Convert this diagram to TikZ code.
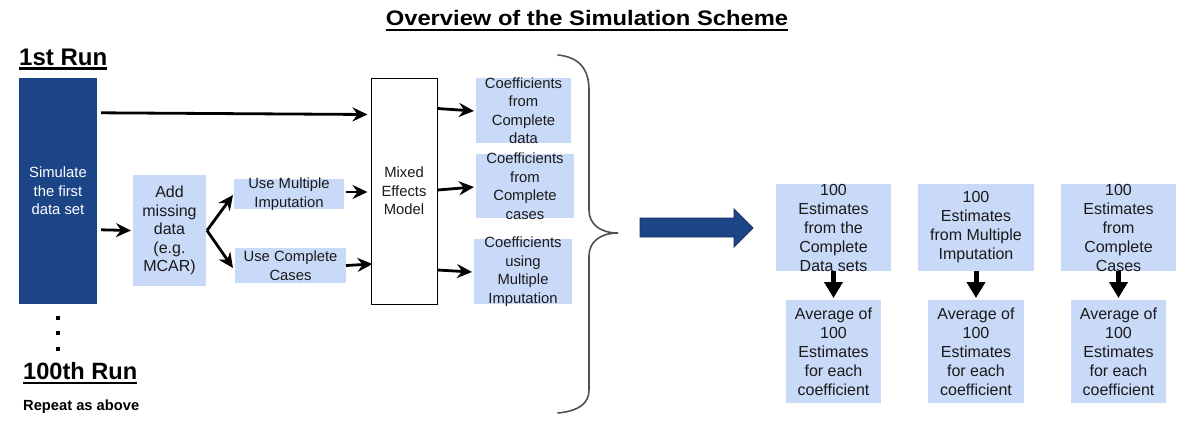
\documentclass[tikz,border=0pt]{standalone}
\usepackage{fontspec}
\usepackage{graphicx}
\setmainfont{Liberation Sans}
\usetikzlibrary{arrows.meta,calc}
\definecolor{dkblue}{HTML}{1C4587}
\definecolor{ltblue}{HTML}{C9DAF8}
\definecolor{txtc}{HTML}{1A1A1A}
\definecolor{bracec}{HTML}{505050}
\begin{document}
\begin{tikzpicture}[x=1pt,y=-1pt,
  box/.style={fill=ltblue, draw=none, inner sep=0, outer sep=0},
  txt/.style={align=center, text=txtc, font=\fontsize{14.8}{18.5}\selectfont, inner sep=0},
  txtb/.style={align=center, text=txtc, font=\fontsize{16}{19}\selectfont, inner sep=0},
  heading/.style={inner sep=0, text=black, font=\bfseries\fontsize{24}{28}\selectfont},
  uline/.style={line width=2.2pt},
  arr/.style={line width=2.8pt, -{Stealth[length=15pt,width=14pt,inset=5pt]}},
  darr/.style={line width=5pt, -{Triangle[length=16pt,width=18pt]}}]
\fill[white] (0,0) rectangle (1203,424);
\useasboundingbox (0,0) rectangle (1203,424);

% headings
\node[heading, anchor=base, font=\bfseries\fontsize{21}{24}\selectfont] (title) at (587,25) {\scalebox{1.13}[1]{Overview of the Simulation Scheme}};
\draw[uline] ([shift={(0,5)}]title.base west) -- ([shift={(0,5)}]title.base east);
\node[heading, anchor=base west] (run1) at (19,65) {1st Run};
\draw[uline] ([shift={(0,3.5)}]run1.base west) -- ([shift={(0,3.5)}]run1.base east);
\node[heading, anchor=base west, font=\bfseries\fontsize{23.6}{28}\selectfont] (run100) at (23,379) {100th Run};
\draw[uline] ([shift={(0,4)}]run100.base west) -- ([shift={(0,4)}]run100.base east);
\node[inner sep=0, anchor=base west, text=black, font=\bfseries\fontsize{14.7}{17}\selectfont] (rep) at (23,410.5) {Repeat as above};

% dots
\fill (56,316) rectangle (60,320);
\fill (56,331) rectangle (60,335);
\fill (56,347) rectangle (60,351);

% left boxes
\node[fill=dkblue, inner sep=0, minimum width=78pt, minimum height=226pt,
  label={[txt, text=white]center:{Simulate\\the first\\data set}}] (sim) at (58,191) {};
\node[box, minimum width=73pt, minimum height=111pt,
  label={[txtb, font=\fontsize{16}{18.5}\selectfont]center:{Add\\missing\\data\\(e.g.\\MCAR)}}] (add) at (169.5,230.5) {};
\node[box, minimum width=110pt, minimum height=30pt,
  label={[txt]center:{Use Multiple\\Imputation}}] (mi) at (289,194) {};
\node[box, minimum width=111pt, minimum height=35pt,
  label={[txt]center:{Use Complete\\Cases}}] (cc) at (290.5,265.5) {};
\node[draw=black, line width=1pt, fill=white, inner sep=0, minimum width=66pt, minimum height=226pt,
  label={[txt]center:{Mixed\\Effects\\Model}}] (mem) at (404,191) {};

% coefficient boxes
\node[box, minimum width=95pt, minimum height=65pt,
  label={[txt]center:{Coefficients\\from\\Complete\\data}}] (c1) at (523.5,110.5) {};
\node[box, minimum width=98pt, minimum height=64pt,
  label={[txt]center:{Coefficients\\from\\Complete\\cases}}] (c2) at (525,186) {};
\node[box, minimum width=98pt, minimum height=65pt,
  label={[txt]center:{Coefficients\\using\\Multiple\\Imputation}}] (c3) at (523,271.5) {};

% estimate boxes
\node[box, minimum width=115pt, minimum height=87pt,
  label={[txtb]center:{100\\Estimates\\from the\\Complete\\Data sets}}] (ea) at (833.5,227.5) {};
\node[box, minimum width=116pt, minimum height=87pt,
  label={[txtb]center:{100\\Estimates\\from Multiple\\Imputation}}] (eb) at (976,227.5) {};
\node[box, minimum width=115pt, minimum height=87pt,
  label={[txtb]center:{100\\Estimates\\from\\Complete\\Cases}}] (ec) at (1118.5,227.5) {};
\node[box, minimum width=95pt, minimum height=103pt,
  label={[txtb]center:{Average of\\100\\Estimates\\for each\\coefficient}}] (aa) at (833.5,351.5) {};
\node[box, minimum width=96pt, minimum height=103pt,
  label={[txtb]center:{Average of\\100\\Estimates\\for each\\coefficient}}] (ab) at (976,351.5) {};
\node[box, minimum width=95pt, minimum height=103pt,
  label={[txtb]center:{Average of\\100\\Estimates\\for each\\coefficient}}] (ac) at (1118.5,351.5) {};

% connectors
\draw[arr] ([shift={(4,35)}]sim.north east) -- ([shift={(-3,37)}]mem.north west);
\draw[arr] ([shift={(4,152)}]sim.north east) -- ([shift={(-2,0)}]add.east -| add.west);
\draw[arr] ([shift={(1,0)}]add.east) -- ([shift={(-1,1)}]mi.west);
\draw[arr] ([shift={(1,0)}]add.east) -- ([shift={(-2,2.5)}]cc.west);
\draw[arr] ([shift={(2,-2)}]mi.east) -- ([shift={(-3,1)}]mem.west);
\draw[arr] (cc.east) -- ([shift={(2,73)}]mem.west);
\draw[arr] ([shift={(0,31)}]mem.north east) -- ([shift={(-2,0.5)}]c1.west);
\draw[arr] ([shift={(0,-1)}]mem.east) -- ([shift={(-2,1)}]c2.west);
\draw[arr] ([shift={(0,79)}]mem.east) -- ([shift={(-2,0.5)}]c3.west);
\draw[darr] (ea.south) -- ([shift={(0,-2)}]aa.north);
\draw[darr] (eb.south) -- ([shift={(0,-2)}]ab.north);
\draw[darr] (ec.south) -- ([shift={(0,-2)}]ac.north);

% brace
\draw[bracec, line width=1.6pt, line cap=round]
  (558,55) .. controls (578,57) and (589,68) .. (589,90) -- (589,210)
  .. controls (589,224) and (600,233) .. (618,233)
  .. controls (600,233) and (589,242) .. (589,256) -- (589,390)
  .. controls (589,404) and (578,411) .. (558,413);

% big arrow
\draw[fill=dkblue, draw=dkblue!70!black, line width=0.8pt]
  (640,218) -- (734,218) -- (734,209) -- (753,228) -- (734,247) -- (734,237) -- (640,237) -- cycle;
\end{tikzpicture}
\end{document}
